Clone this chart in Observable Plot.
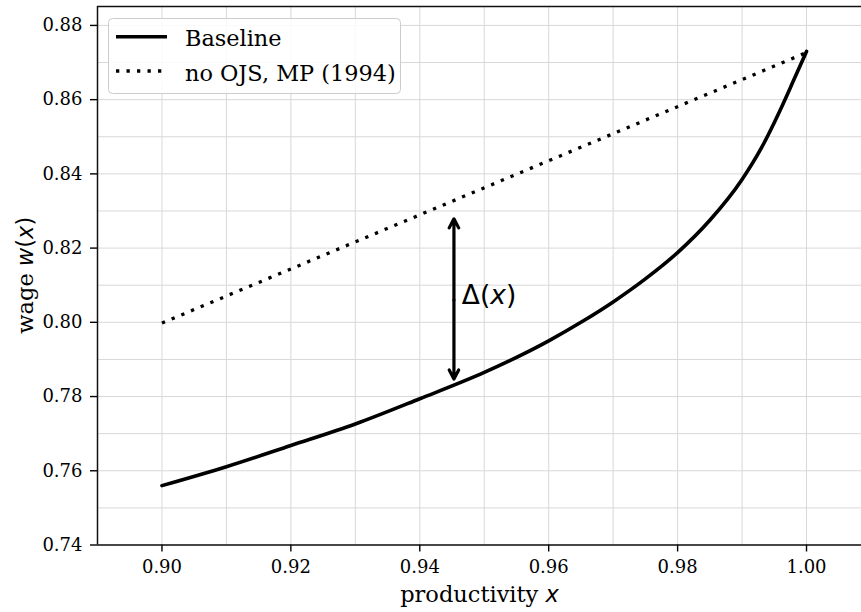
<!DOCTYPE html>
<html><head><meta charset="utf-8">
<script src="https://cdn.jsdelivr.net/npm/d3@7"></script>
<script src="https://cdn.jsdelivr.net/npm/@observablehq/plot@0.6"></script>
<style>
body{margin:0;background:#fff;}
#wrap{position:relative;width:861px;height:612px;overflow:hidden;}
#legend{position:absolute;left:108px;top:18px;}
</style></head>
<body><div id="wrap"></div>
<script>
// Baseline wage curve w(x)
const baseX = [0.90, 0.91, 0.92, 0.93, 0.94, 0.95, 0.96, 0.965, 0.97, 0.975, 0.98, 0.985, 0.99, 0.993, 0.996, 0.998, 1.00];
const baseY = [0.7560, 0.7611, 0.7668, 0.7726, 0.7794, 0.7865, 0.7950, 0.8000, 0.8055, 0.8117, 0.8188, 0.8275, 0.8385, 0.8470, 0.8575, 0.8652, 0.8730];
// no OJS, MP (1994)
const mpX = [0.90, 1.00];
const mpY = [0.7998, 0.8727];
// Delta(x) arrow
const arrowX = 0.9453;
const arrowTop = 0.8279;
const arrowBottom = 0.7847;
const arrowMid = 0.806;
const deltaLabelX = 0.9466;
const deltaLabelY = 0.8072;
// ticks and grid
const xTicks = [0.90, 0.92, 0.94, 0.96, 0.98, 1.00];
const yTicks = [0.74, 0.76, 0.78, 0.80, 0.82, 0.84, 0.86, 0.88];
const xGrid = [0.89, 0.90, 0.91, 0.92, 0.93, 0.94, 0.95, 0.96, 0.97, 0.98, 0.99, 1.00];
const yGrid = [0.74, 0.75, 0.76, 0.77, 0.78, 0.79, 0.80, 0.81, 0.82, 0.83, 0.84, 0.85, 0.86, 0.87, 0.88];
const xDomain = [0.89, 1.00853];
const yDomain = [0.74, 0.8851];
const seriesNames = ["Baseline", "no OJS, MP (1994)"];

const baseline = baseX.map((x, i) => ({x, y: baseY[i]}));
const mp = mpX.map((x, i) => ({x, y: mpY[i]}));
const arrows = [
  {x: arrowX, y1: arrowMid, y2: arrowTop},
  {x: arrowX, y1: arrowMid, y2: arrowBottom}
];
const fmt = d3.format(".2f");

const chart = Plot.plot({
  width: 861,
  height: 612,
  marginLeft: 97,
  marginRight: 0,
  marginTop: 6,
  marginBottom: 67.5,
  style: {color: "#000", background: "#fff"},
  x: {domain: xDomain, label: null},
  y: {domain: yDomain, label: null},
  marks: [
    Plot.ruleX(xGrid, {stroke: "#d8d8d8", strokeWidth: 1}),
    Plot.ruleY(yGrid, {stroke: "#d8d8d8", strokeWidth: 1}),
    Plot.axisX({ticks: xTicks, tickFormat: () => "", tickSize: 7, strokeWidth: 1.4, label: null}),
    Plot.axisY({ticks: yTicks, tickFormat: () => "", tickSize: 7, strokeWidth: 1.4, label: null}),
    Plot.text(xTicks, {x: d => d, frameAnchor: "bottom", lineAnchor: "top", dy: 15, text: d => fmt(d),
      fontSize: 18, fontFamily: "DejaVu Serif", fill: "#000"}),
    Plot.text(yTicks, {y: d => d, frameAnchor: "left", textAnchor: "end", dx: -15, text: d => fmt(d),
      fontSize: 18, fontFamily: "DejaVu Serif", fill: "#000"}),
    Plot.line(mp, {x: "x", y: "y", stroke: "#000", strokeWidth: 3.3, strokeDasharray: "3.3 7.2", strokeLinecap: "butt"}),
    Plot.line(baseline, {x: "x", y: "y", stroke: "#000", strokeWidth: 3.6, curve: "monotone-x"}),
    Plot.arrow(arrows, {x1: "x", x2: "x", y1: "y1", y2: "y2", stroke: "#000", strokeWidth: 3.2, headLength: 4.8, headAngle: 55}),
    Plot.ruleX([xDomain[0]], {stroke: "#111", strokeWidth: 1.5}),
    Plot.ruleY([yDomain[0]], {stroke: "#111", strokeWidth: 1.5}),
    Plot.ruleY([yDomain[1]], {stroke: "#111", strokeWidth: 1.5})
  ]
});

const wrap = document.getElementById("wrap");
wrap.appendChild(chart);

const sx = chart.scale("x"), sy = chart.scale("y");
const svg = d3.select(chart);

// Delta(x) label
const dt = svg.append("text")
  .attr("x", sx.apply(deltaLabelX))
  .attr("y", sy.apply(deltaLabelY))
  .attr("dy", "0.35em")
  .attr("text-anchor", "start")
  .attr("font-family", "DejaVu Sans")
  .attr("font-size", 26.5)
  .attr("fill", "#000");
dt.append("tspan").text("Δ(");
dt.append("tspan").attr("font-style", "oblique").text("x");
dt.append("tspan").text(")");

// x axis label
const xl = svg.append("text")
  .attr("x", (sx.range[0] + sx.range[1]) / 2 + 0.5)
  .attr("y", 602)
  .attr("text-anchor", "middle")
  .attr("font-family", "DejaVu Serif")
  .attr("font-size", 22.5)
  .attr("fill", "#000");
xl.append("tspan").text("productivity ");
xl.append("tspan").attr("font-family", "DejaVu Sans").attr("font-style", "oblique").text("x");

// y axis label
const cy = (sy.range[0] + sy.range[1]) / 2;
const yl = svg.append("text")
  .attr("transform", `translate(32.5,${cy}) rotate(-90)`)
  .attr("text-anchor", "middle")
  .attr("font-family", "DejaVu Serif")
  .attr("font-size", 22.5)
  .attr("fill", "#000");
yl.append("tspan").text("wage ");
const ym = yl.append("tspan").attr("font-family", "DejaVu Sans");
ym.append("tspan").attr("font-style", "oblique").text("w");
ym.append("tspan").text("(");
ym.append("tspan").attr("font-style", "oblique").text("x");
ym.append("tspan").text(")");

// legend
const lg = d3.select(wrap).append("svg")
  .attr("id", "legend")
  .attr("width", 294).attr("height", 77);
lg.append("rect").attr("x", 0.5).attr("y", 0.5).attr("width", 292).attr("height", 75)
  .attr("rx", 4).attr("fill", "rgba(255,255,255,0.85)").attr("stroke", "#cccccc").attr("stroke-width", 1);
const rows = [
  {name: seriesNames[0], dash: null, ly: 18.7, ty: 27.7},
  {name: seriesNames[1], dash: "3.3 7.2", ly: 53, ty: 62.5}
];
rows.forEach(r => {
  const l = lg.append("line").attr("x1", 8).attr("x2", 59).attr("y1", r.ly).attr("y2", r.ly)
    .attr("stroke", "#000").attr("stroke-width", r.dash ? 3.3 : 3.6);
  if (r.dash) l.attr("stroke-dasharray", r.dash);
  lg.append("text").attr("x", 77).attr("y", r.ty)
    .attr("font-family", "DejaVu Serif").attr("font-size", 22.4).attr("fill", "#000")
    .text(r.name);
});
</script>
</body></html>
